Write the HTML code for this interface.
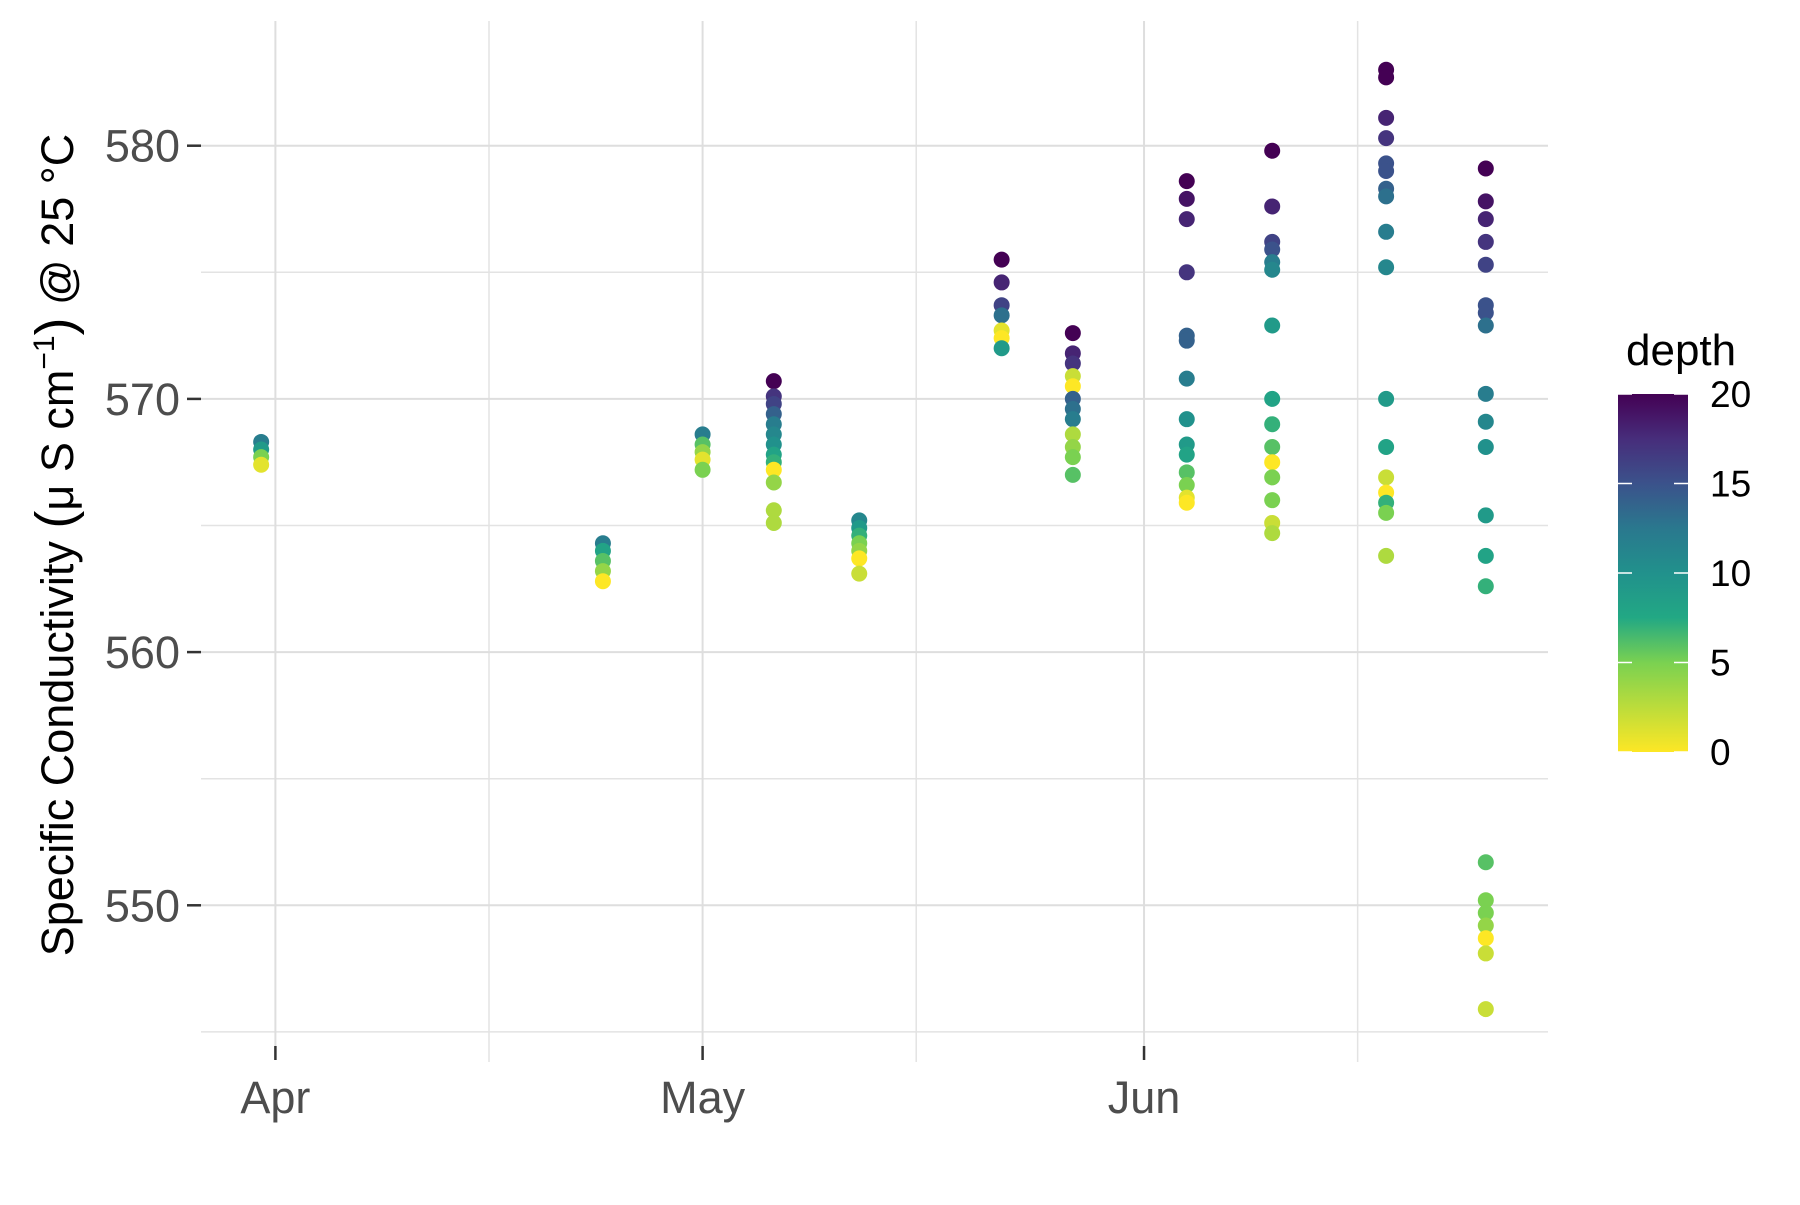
<!DOCTYPE html>
<html><head><meta charset="utf-8"><style>
body{margin:0;background:#fff}
svg text{font-family:"Liberation Sans",sans-serif}
</style></head><body>
<svg id="chart" width="1800" height="1200" viewBox="0 0 1800 1200" xmlns="http://www.w3.org/2000/svg">
<defs><linearGradient id="vir" x1="0" y1="1" x2="0" y2="0">
<stop offset="0" stop-color="#fde725"/><stop offset="0.25" stop-color="#7ad151"/><stop offset="0.375" stop-color="#22a884"/><stop offset="0.5" stop-color="#21918c"/><stop offset="0.625" stop-color="#2a788e"/><stop offset="0.75" stop-color="#3b528b"/><stop offset="0.875" stop-color="#472d7b"/><stop offset="1" stop-color="#440154"/></linearGradient></defs>
<g id="grid"></g>
<g id="axes"></g>
<g id="points"></g>
<text transform="translate(73,545) rotate(-90)" text-anchor="middle" font-size="45" fill="#000">Specific Conductivity <tspan font-size="54">(</tspan>μ S cm<tspan dy="-19" font-size="30">−1</tspan><tspan dy="19" font-size="54">)</tspan> @ 25 °C</text>
<g>
<text x="1626" y="365" font-size="44" fill="#000">depth</text>
<rect x="1618" y="394" width="70" height="358" fill="url(#vir)"/>
<g id="legticks"></g>
</g>
</svg>
<script>
const dayOffsets=[-1,23,30,35,41,51,56,64,70,78,85];
const condValues=[
[568.3,568.0,567.7,567.4],
[564.3,564.0,563.6,563.2,562.8],
[568.6,568.2,567.9,567.6,567.2],
[570.7,570.1,569.8,569.4,569.0,568.6,568.2,567.8,567.5,567.2,566.7,565.6,565.1],
[565.2,564.9,564.6,564.3,564.0,563.7,563.1],
[575.5,574.6,573.7,573.3,572.7,572.4,572.0],
[572.6,571.8,571.4,570.9,570.5,570.0,569.6,569.2,568.6,568.1,567.7,567.0],
[578.6,577.9,577.1,575.0,572.5,572.3,570.8,569.2,568.2,567.8,567.1,566.6,566.1,565.9],
[579.8,577.6,576.2,575.9,575.4,575.1,572.9,570.0,569.0,568.1,567.5,566.9,566.0,565.1,564.7],
[583.0,582.7,581.1,580.3,579.3,579.0,578.3,578.0,576.6,575.2,570.0,568.1,566.9,566.3,565.9,565.5,563.8],
[579.1,577.8,577.1,576.2,575.3,573.7,573.4,572.9,570.2,569.1,568.1,565.4,563.8,562.6,551.7,550.2,549.7,549.2,548.7,548.1,545.9]];
const depthValues=[
[12,9,5,1],
[12,8,6,4,0],
[12,6,4,1,5],
[20,17,16,14,12,11,10,8,7,0,4,3,3],
[11,9,7,5,4,0,2],
[20,18,16,13,1,0,9],
[20,18,17,2,0,14,13,12,3,4,5,6],
[20,19,18,17,14,14,12,10,9,8,6,5,1,0],
[20,18,16,15,12,11,9,8,7,6,0,5,5,2,3],
[20,20,18,17,15,15,14,13,12,11,9,8,2,0,7,5,3],
[20,19,18,17,16,15,15,13,12,11,10,9,8,7,6,5,5,4,0,2,2]];
const yTicks=[550,560,570,580];
const yMinor=[545,555,565,575];
const xTickLabels=["Apr","May","Jun"];
const xTickDays=[0,30,61];
const xMinorDays=[15,45,76];
const legendTicks=[0,5,10,15,20];

const NS="http://www.w3.org/2000/svg";
const PL=201,PR=1548,PT=21,PB=1033;
const xs=d=>275.4+d*14.24;
const ys=v=>905.3-(v-550)*25.32;
function mk(tag,attrs,parent){const e=document.createElementNS(NS,tag);for(const k in attrs)e.setAttribute(k,attrs[k]);parent.appendChild(e);return e;}
const grid=document.getElementById('grid'),axes=document.getElementById('axes'),pts=document.getElementById('points');
yMinor.forEach(v=>{const l=mk('line',{x1:PL,x2:PR,y1:ys(v),y2:ys(v),stroke:'#e3e3e3','stroke-width':1.5},grid);

});
xMinorDays.forEach(d=>{const l=mk('line',{x1:xs(d),x2:xs(d),y1:PT,y2:1062,stroke:'#e3e3e3','stroke-width':1.5},grid);

});
yTicks.forEach(v=>{const l=mk('line',{x1:PL,x2:PR,y1:ys(v),y2:ys(v),stroke:'#dedede','stroke-width':2},grid);


const t=mk('line',{x1:187,x2:201,y1:ys(v),y2:ys(v),stroke:'#333','stroke-width':2.5},axes);


const tx=mk('text',{x:180,y:ys(v)+16,'text-anchor':'end','font-size':45,fill:'#4d4d4d'},axes);tx.textContent=v;

});
xTickDays.forEach((d,i)=>{const l=mk('line',{x1:xs(d),x2:xs(d),y1:PT,y2:1046,stroke:'#dedede','stroke-width':2},grid);


const t=mk('line',{x1:xs(d),x2:xs(d),y1:1046,y2:1060,stroke:'#333','stroke-width':2.5},axes);


const tx=mk('text',{x:xs(d),y:1113,'text-anchor':'middle','font-size':45,fill:'#4d4d4d'},axes);tx.textContent=xTickLabels[i];

});
const stops=[[0,[253,231,37]],[0.25,[122,209,81]],[0.375,[34,168,132]],[0.5,[33,145,140]],[0.625,[42,120,142]],[0.75,[59,82,139]],[0.875,[71,45,123]],[1,[68,1,84]]];
function vir(t){for(let i=1;i<stops.length;i++){if(t<=stops[i][0]){const a=stops[i-1],b=stops[i],f=(t-a[0])/(b[0]-a[0]);return 'rgb('+a[1].map((c,j)=>Math.round(c+(b[1][j]-c)*f)).join(',')+')';}}return 'rgb(68,1,84)';}
dayOffsets.forEach((d,i)=>{condValues[i].forEach((v,j)=>{const c=mk('circle',{cx:xs(d),cy:ys(v),r:8,fill:vir(depthValues[i][j]/20)},pts);

});});
const lt=document.getElementById('legticks');
legendTicks.forEach(v=>{const y=752-v/20*358;
mk('line',{x1:1618,x2:1632,y1:y,y2:y,stroke:'#fff','stroke-width':1.5},lt);
mk('line',{x1:1674,x2:1688,y1:y,y2:y,stroke:'#fff','stroke-width':1.5},lt);
const tx=mk('text',{x:1710,y:y+13,'font-size':37,fill:'#000'},lt);tx.textContent=v;

});
</script>
</body></html>
